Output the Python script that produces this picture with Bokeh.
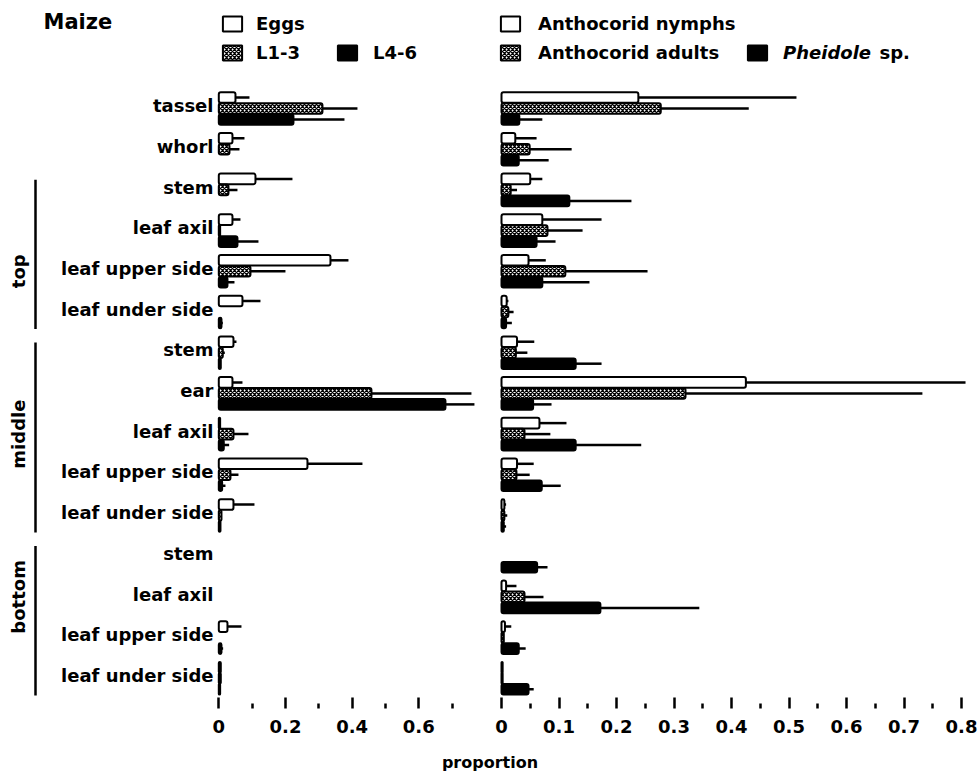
import numpy as np
from bokeh.plotting import figure
from bokeh.models import (Range1d, LinearAxis, FixedTicker, Legend, LegendItem,
                          ColumnDataSource)
from bokeh.core.properties import value
from bokeh.embed import file_html
from bokeh.resources import INLINE

# ---------------- data ----------------
rows = ["tassel", "whorl",
        "stem", "leaf axil", "leaf upper side", "leaf under side",
        "stem", "ear", "leaf axil", "leaf upper side", "leaf under side",
        "stem", "leaf axil", "leaf upper side", "leaf under side"]
groups = ["top", "middle", "bottom"]
group_first = [2, 6, 11]
group_last = [5, 10, 14]
group_label_row = [4, 8, 12]

# left panel (Helicoverpa stages)
eggs     = [0.050, 0.041, 0.110, 0.041, 0.335, 0.071, 0.044, 0.041, 0.004, 0.266, 0.044, 0, 0, 0.026, 0.006]
eggs_err = [0.042, 0.036, 0.111, 0.024, 0.054, 0.054, 0.009, 0.030, 0.000, 0.165, 0.063, 0, 0, 0.042, 0.000]
l13      = [0.311, 0.032, 0.029, 0.004, 0.095, 0.000, 0.012, 0.458, 0.044, 0.035, 0.008, 0, 0, 0.000, 0.006]
l13_err  = [0.105, 0.030, 0.027, 0.000, 0.105, 0.000, 0.006, 0.300, 0.045, 0.024, 0.000, 0, 0, 0.000, 0.000]
l46      = [0.224, 0.000, 0.000, 0.056, 0.026, 0.008, 0.006, 0.680, 0.015, 0.010, 0.005, 0, 0, 0.008, 0.004]
l46_err  = [0.153, 0.000, 0.000, 0.063, 0.021, 0.004, 0.000, 0.087, 0.016, 0.010, 0.000, 0, 0, 0.005, 0.000]

# right panel (predators)
nymphs       = [0.238, 0.024, 0.050, 0.071, 0.047, 0.009, 0.027, 0.425, 0.066, 0.027, 0.005, 0.000, 0.008, 0.006, 0.002]
nymphs_err   = [0.275, 0.037, 0.021, 0.103, 0.030, 0.003, 0.030, 0.382, 0.047, 0.029, 0.003, 0.000, 0.018, 0.011, 0.000]
adults       = [0.277, 0.049, 0.016, 0.080, 0.111, 0.012, 0.025, 0.320, 0.040, 0.026, 0.005, 0.000, 0.040, 0.004, 0.002]
adults_err   = [0.153, 0.073, 0.011, 0.061, 0.143, 0.009, 0.020, 0.412, 0.045, 0.023, 0.005, 0.000, 0.033, 0.000, 0.000]
pheidole     = [0.031, 0.030, 0.118, 0.061, 0.071, 0.008, 0.129, 0.055, 0.129, 0.070, 0.004, 0.062, 0.172, 0.030, 0.047]
pheidole_err = [0.040, 0.052, 0.108, 0.033, 0.082, 0.010, 0.045, 0.032, 0.114, 0.033, 0.004, 0.018, 0.172, 0.012, 0.009]

left_ticks = [0, 0.2, 0.4, 0.6]
left_tick_labels = ["0", "0.2", "0.4", "0.6"]
left_minor = [0.1, 0.3, 0.5, 0.7]
right_ticks = [0, 0.1, 0.2, 0.3, 0.4, 0.5, 0.6, 0.7, 0.8]
right_tick_labels = ["0", "0.1", "0.2", "0.3", "0.4", "0.5", "0.6", "0.7", "0.8"]
right_minor = [0.05, 0.15, 0.25, 0.35, 0.45, 0.55, 0.65, 0.75]

# ---------------- layout ----------------
FONT = "DejaVu Sans"
W, H = 979, 776
FRAME_H = 708
left_zero, left_ppu = 218.3, 333.3
right_zero, right_ppu = 501.0, 575.0
row0_px, row_px = 108.0, 40.7

L_start, L_end = -left_zero / left_ppu, (W - left_zero) / left_ppu
R_start, R_end = -right_zero / right_ppu, (W - right_zero) / right_ppu
y_top, y_bot = -row0_px / row_px, (FRAME_H - row0_px) / row_px


def xpx(px):
    return (px - left_zero) / left_ppu


def ypx(py):
    return (py - row0_px) / row_px


def right_to_primary(v):
    return L_start + (v - R_start) * (L_end - L_start) / (R_end - R_start)


p = figure(width=W, height=H, output_backend="svg", toolbar_location=None,
           x_range=Range1d(L_start, L_end), y_range=Range1d(y_bot, y_top),
           x_axis_location=None, y_axis_location=None, title=None,
           min_border_left=0, min_border_right=0, min_border_top=0,
           min_border_bottom=H - FRAME_H)
p.extra_x_ranges = {"right": Range1d(R_start, R_end)}
p.outline_line_color = None
p.background_fill_color = "white"
p.border_fill_color = "white"
p.grid.grid_line_color = None
p.grid.visible = False

idx = np.arange(len(rows))
offsets = [-0.27, 0.0, 0.27]
bar_h = 0.26
styles = [
    dict(fill_color="white"),
    dict(fill_color="white", hatch_pattern="x", hatch_color="black",
         hatch_scale=4, hatch_weight=1.3),
    dict(fill_color="black"),
]


def draw(vals, errs, k, rng=None):
    v = np.array(vals, float)
    e = np.array(errs, float)
    vp = np.where(v > 0, v, np.nan)
    src = ColumnDataSource(dict(y=idx + offsets[k], v=vp, hi=vp + e))
    kw = {} if rng is None else {"x_range_name": rng}
    r = p.hbar(y="y", left=0, right="v", height=bar_h, source=src,
               line_color="black", line_width=2, border_radius=2,
               **styles[k], **kw)
    p.segment(x0="v", y0="y", x1="hi", y1="y", source=src,
              line_width=2.5, line_color="black", **kw)
    return r


r_eggs = draw(eggs, eggs_err, 0)
r_l13 = draw(l13, l13_err, 1)
r_l46 = draw(l46, l46_err, 2)
r_nym = draw(nymphs, nymphs_err, 0, "right")
r_ad = draw(adults, adults_err, 1, "right")
r_ph = draw(pheidole, pheidole_err, 2, "right")

# row labels
p.text(x=xpx(213), y=idx - 0.07, text=rows, text_font=value(FONT),
       text_font_style="bold", text_font_size="18px",
       text_align="right", text_baseline="middle")

# group brackets and labels
gf = np.array(group_first, float)
gl = np.array(group_last, float)
p.segment(x0=xpx(35), y0=gf - 0.25, x1=xpx(35), y1=gl + 0.42,
          line_width=2.5, line_color="black")
p.text(x=xpx(18), y=group_label_row, text=groups, angle=np.pi / 2,
       text_font=value(FONT), text_font_style="bold", text_font_size="18px",
       text_align="center", text_baseline="middle")

# title
p.text(x=[xpx(43)], y=[ypx(21)], text=["Maize"], text_font=value(FONT),
       text_font_style="bold", text_font_size="21px",
       text_align="left", text_baseline="middle")

# x axis: ticks for both panels on one axis line
maj = list(left_ticks) + [right_to_primary(v) for v in right_ticks]
mnr = list(left_minor) + [right_to_primary(v) for v in right_minor]
overrides = {}
for t, s in zip(left_ticks, left_tick_labels):
    overrides[float(t)] = s
for t, s in zip(right_ticks, right_tick_labels):
    overrides[float(right_to_primary(t))] = s
ax = LinearAxis(ticker=FixedTicker(ticks=[float(t) for t in maj],
                                   minor_ticks=[float(t) for t in mnr]),
                major_label_overrides=overrides, axis_label="proportion")
ax.axis_line_color = None
ax.major_tick_in = 11
ax.major_tick_out = 0
ax.minor_tick_in = 5
ax.minor_tick_out = 0
ax.major_tick_line_width = 2.5
ax.minor_tick_line_width = 2.5
ax.major_label_standoff = 11
ax.major_label_text_font = FONT
ax.major_label_text_font_style = "bold"
ax.major_label_text_font_size = "18px"
ax.major_label_text_color = "black"
ax.axis_label_standoff = 17
ax.axis_label_text_font = FONT
ax.axis_label_text_font_style = "bold"
ax.axis_label_text_font_size = "16px"
ax.axis_label_text_color = "black"
p.add_layout(ax, "below")


# legends
def make_legend(items, loc, standoff, label_width, style="bold", nrows=2):
    lg = Legend(items=items, location=loc, nrows=nrows,
                glyph_width=24, glyph_height=19, label_standoff=standoff,
                label_width=label_width, label_height=19, spacing=8,
                padding=0, margin=0, border_line_color=None,
                background_fill_alpha=0, label_text_font=FONT,
                label_text_font_style=style, label_text_font_size="18px",
                label_text_color="black")
    p.add_layout(lg, "center")
    return lg


leg_bottom = FRAME_H - 62.5
make_legend([LegendItem(label="Eggs", renderers=[r_eggs]),
             LegendItem(label="L1-3", renderers=[r_l13])],
            (220, leg_bottom), 12, 20)
make_legend([LegendItem(label="L4-6", renderers=[r_l46])],
            (335, leg_bottom), 14, 20, nrows=1)
make_legend([LegendItem(label="Anthocorid nymphs", renderers=[r_nym]),
             LegendItem(label="Anthocorid adults", renderers=[r_ad])],
            (498, leg_bottom), 16, 20)
make_legend([LegendItem(label="Pheidole", renderers=[r_ph])],
            (745, leg_bottom), 14, 20, style="bold italic", nrows=1)
p.text(x=[xpx(879)], y=[ypx(52)], text=["sp."], text_font=value(FONT),
       text_font_style="bold", text_font_size="18px",
       text_align="left", text_baseline="middle")

open("out.html", "w").write(file_html(p, INLINE))
